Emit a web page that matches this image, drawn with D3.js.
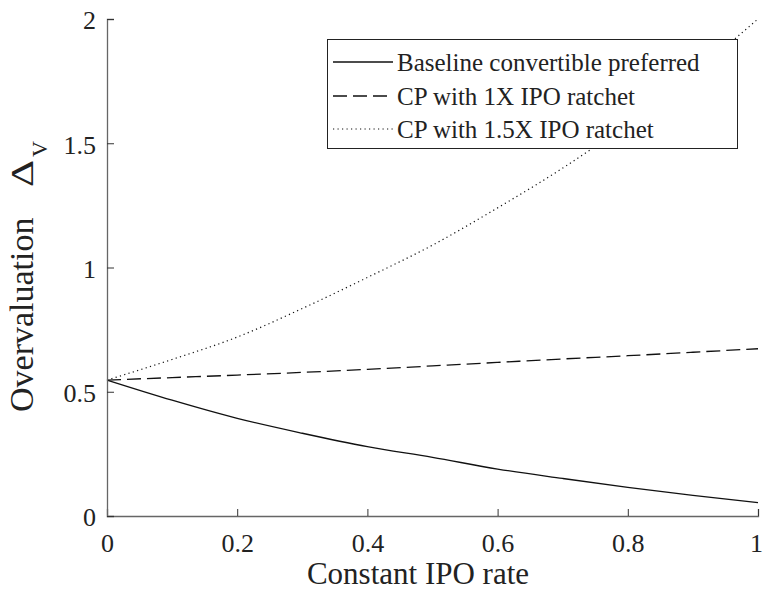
<!DOCTYPE html>
<html><head><meta charset="utf-8">
<script src="https://cdn.jsdelivr.net/npm/d3@7"></script>
<style>body{margin:0;background:#fff}svg{display:block}</style>
</head><body>
<script>
const ipoRate = [0,0.1,0.2,0.3,0.4,0.5,0.6,0.7,0.8,0.9,1.0];
const baseline = [0.547,0.466,0.393,0.333,0.279,0.236,0.189,0.151,0.115,0.083,0.054];
const ratchet1x = [0.547,0.557,0.567,0.578,0.590,0.604,0.618,0.632,0.645,0.659,0.673];
const ratchet15x = [0.547,0.630,0.720,0.835,0.960,1.090,1.240,1.400,1.580,1.780,2.000];
const seriesNames = ["Baseline convertible preferred","CP with 1X IPO ratchet","CP with 1.5X IPO ratchet"];
const xTicks = [0,0.2,0.4,0.6,0.8,1];
const yTicks = [0,0.5,1,1.5,2];

const FONT="Liberation Serif";
const W=763,H=598;
const m={l:107,r:5,t:19,b:82};
const svg=d3.select("body").append("svg").attr("width",W).attr("height",H)
  .attr("font-family",FONT);
const x=d3.scaleLinear().domain([0,1]).range([m.l,W-m.r]);
const y=d3.scaleLinear().domain([0,2]).range([H-m.b,m.t]);

const series=[
  {name:seriesNames[0],vals:baseline,dash:null,w:1.3},
  {name:seriesNames[1],vals:ratchet1x,dash:"14,6",w:1.3},
  {name:seriesNames[2],vals:ratchet15x,dash:"1.2,3.3",w:1.2}
];
const line=d3.line().x((d,i)=>x(ipoRate[i])).y(d=>y(d)).curve(d3.curveMonotoneX);
series.forEach(s=>{
  svg.append("path").attr("d",line(s.vals)).attr("fill","none").attr("stroke","#111")
    .attr("stroke-width",s.w).attr("stroke-dasharray",s.dash);
});

// axes
const xa=svg.append("g").attr("transform",`translate(0,${y(0)})`)
  .call(d3.axisBottom(x).tickValues(xTicks).tickSize(-7).tickPadding(13).tickFormat(d=>d3.format("")(d)));
const ya=svg.append("g").attr("transform",`translate(${x(0)},0)`)
  .call(d3.axisLeft(y).tickValues(yTicks).tickSize(-7).tickPadding(11).tickFormat(d=>d3.format("")(d)));
[xa,ya].forEach(a=>{
  a.attr("font-family",FONT).attr("font-size",26);
  a.select(".domain").attr("stroke","#666").attr("stroke-width",1.3);
  a.selectAll(".tick line").attr("stroke","#333");
  a.selectAll(".tick text").attr("fill","#222");
});
xa.selectAll(".tick text").attr("dy","0.9em").attr("dx",d=>d===1?-2:0);
ya.selectAll(".tick text").attr("dy","0.38em");

// axis labels
svg.append("text").attr("x",418).attr("y",584).attr("text-anchor","middle")
  .attr("font-size",31).attr("fill","#222").text("Constant IPO rate");
svg.append("text").attr("transform","translate(33,412) rotate(-90)").attr("font-size",34)
  .attr("fill","#222").text("Overvaluation");
svg.append("text").attr("transform","translate(33,187) rotate(-90)").attr("font-size",31)
  .attr("textLength",27).attr("lengthAdjust","spacingAndGlyphs").attr("fill","#222").text("\u0394");
svg.append("text").attr("transform","translate(47,157) rotate(-90)").attr("font-size",22)
  .attr("fill","#222").text("V");

// legend
const lg=svg.append("g");
lg.append("rect").attr("x",327.5).attr("y",39.5).attr("width",410).attr("height",109)
  .attr("fill","#fff").attr("stroke","#222").attr("stroke-width",1);
const rowY=[62,96,129];
series.forEach((s,i)=>{
  lg.append("line").attr("x1",333).attr("x2",393).attr("y1",rowY[i]).attr("y2",rowY[i])
    .attr("stroke","#111").attr("stroke-width",s.w).attr("stroke-dasharray",s.dash);
  lg.append("text").attr("x",397).attr("y",rowY[i]).attr("dy","0.35em").attr("font-size",25)
    .attr("fill","#222").text(s.name);
});
</script>
</body></html>
